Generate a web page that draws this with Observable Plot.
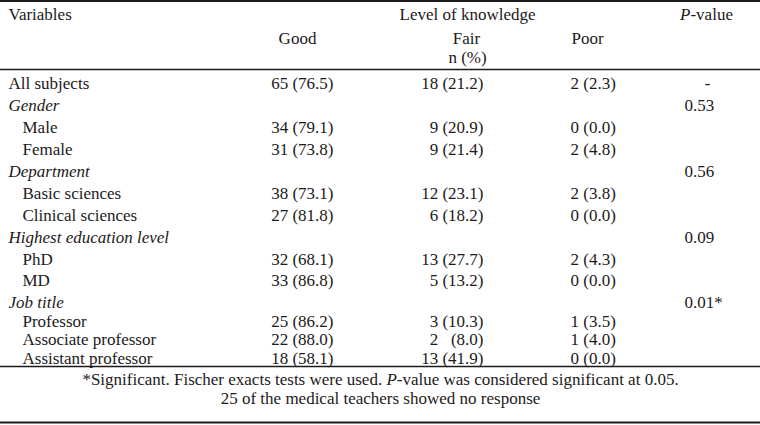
<!DOCTYPE html>
<html><head><meta charset="utf-8">
<script src="https://cdn.jsdelivr.net/npm/d3@7"></script>
<script src="https://cdn.jsdelivr.net/npm/@observablehq/plot@0.6"></script>
<style>
body{margin:0;background:#fff}
#chart svg{display:block}
#chart svg, #chart svg text{font-family:"Liberation Serif","Times New Roman","DejaVu Serif",Times,serif !important}
</style>
</head><body><div id="chart"></div>
<script>
// ---- data ----
const rowLabels = ["All subjects","Gender","Male","Female","Department","Basic sciences","Clinical sciences","Highest education level","PhD","MD","Job title","Professor","Associate professor","Assistant professor"];
const rowKinds  = ["total","group","item","item","group","item","item","group","item","item","group","item","item","item"];
const goodN   = [65,null,34,31,null,38,27,null,32,33,null,25,22,18];
const goodPct = [76.5,null,79.1,73.8,null,73.1,81.8,null,68.1,86.8,null,86.2,88.0,58.1];
const fairN   = [18,null,9,9,null,12,6,null,13,5,null,3,2,13];
const fairPct = [21.2,null,20.9,21.4,null,23.1,18.2,null,27.7,13.2,null,10.3,8.0,41.9];
const poorN   = [2,null,0,2,null,2,0,null,2,0,null,1,1,0];
const poorPct = [2.3,null,0.0,4.8,null,3.8,0.0,null,4.3,0.0,null,3.5,4.0,0.0];
const pValues = ["-","0.53",null,null,"0.56",null,null,"0.09",null,null,"0.01*",null,null,null];
const headerTitles = {variables:"Variables", level:"Level of knowledge", good:"Good", fair:"Fair", poor:"Poor", unit:"n (%)", p:"P-value"};
const footnotes = ["*Significant. Fischer exacts tests were used. P-value was considered significant at 0.05.",
                   "25 of the medical teachers showed no response"];

// ---- layout (not data) ----
const colX = {label:8, indent:22, goodR:333, fairR:483, poorL:570, pL:684, pC:707,
              hGood:297, hFair:466, hUnit:467, hLevel:467, hP:706, hPoor:587, foot:380};
const rowY = {title:-3.14, sub:-2.05, unit:-1.18, topRule:-3.75, headRule:-0.64,
              footRule:13.43, foot1:14.12, foot2:15.14, bottomRule:16.43};

const fs = "\u2007";
function fmt(n, p, padTo) {
  if (n == null) return null;
  let pc = "(" + p.toFixed(1) + ")";
  if (padTo) while (pc.length < padTo) pc = fs + pc;
  return n + " " + pc;
}
const rows = rowLabels.map((label, i) => ({
  i, label, kind: rowKinds[i],
  good: fmt(goodN[i], goodPct[i]),
  fair: fmt(fairN[i], fairPct[i], 6),
  poor: fmt(poorN[i], poorPct[i]),
  p: pValues[i]
}));

const headers = [
  {t: headerTitles.variables, x: colX.label, y: rowY.title, a: "start"},
  {t: headerTitles.level, x: colX.hLevel, y: rowY.title, a: "middle"},
  {t: headerTitles.p, x: colX.hP, y: rowY.title, a: "middle"},
  {t: headerTitles.good, x: colX.hGood, y: rowY.sub, a: "middle"},
  {t: headerTitles.fair, x: colX.hFair, y: rowY.sub, a: "middle"},
  {t: headerTitles.poor, x: colX.hPoor, y: rowY.sub, a: "middle"},
  {t: headerTitles.unit, x: colX.hUnit, y: rowY.unit, a: "middle"}
];

const font = "Liberation Serif, Times New Roman, DejaVu Serif, serif";
const ink = "#1c1a1a";
const common = {fontSize: 17, fontFamily: font, fill: ink};

const chart = Plot.plot({
  width: 760, height: 425, margin: 0,
  style: {fontFamily: font},
  x: {type: "linear", domain: [0, 760], range: [0, 760], axis: null},
  y: {type: "linear", domain: [0, 7, 10, 13], range: [83, 237, 302, 358], axis: null},
  marks: [
    Plot.ruleY([rowY.topRule, rowY.bottomRule], {y: d => d, stroke: ink, strokeWidth: 2}),
    Plot.ruleY([rowY.headRule, rowY.footRule], {y: d => d, stroke: ink, strokeWidth: 1.5}),
    Plot.text(headers.filter(h => h.a === "start"), {x: "x", y: "y", text: "t", textAnchor: "start", ...common}),
    Plot.text(headers.filter(h => h.a === "middle"), {x: "x", y: "y", text: "t", textAnchor: "middle", ...common}),
    Plot.text(rows.filter(d => d.kind === "total"), {x: () => colX.label, y: "i", text: "label", textAnchor: "start", ...common}),
    Plot.text(rows.filter(d => d.kind === "group"), {x: () => colX.label, y: "i", text: "label", textAnchor: "start", fontStyle: "italic", ...common}),
    Plot.text(rows.filter(d => d.kind === "item"), {x: () => colX.indent, y: "i", text: "label", textAnchor: "start", ...common}),
    Plot.text(rows.filter(d => d.good), {x: () => colX.goodR, y: "i", text: "good", textAnchor: "end", ...common}),
    Plot.text(rows.filter(d => d.fair), {x: () => colX.fairR, y: "i", text: "fair", textAnchor: "end", ...common}),
    Plot.text(rows.filter(d => d.poor), {x: () => colX.poorL, y: "i", text: "poor", textAnchor: "start", ...common}),
    Plot.text(rows.filter(d => d.p && d.p !== "-"), {x: () => colX.pL, y: "i", text: "p", textAnchor: "start", ...common}),
    Plot.text(rows.filter(d => d.p === "-"), {x: () => colX.pC, y: "i", text: "p", textAnchor: "middle", ...common}),
    Plot.text(footnotes, {x: () => colX.foot, y: (d, i) => i === 0 ? rowY.foot1 : rowY.foot2, text: d => d, textAnchor: "middle", ...common})
  ]
});
document.getElementById("chart").appendChild(chart);

// italic "P" in "P-value"
chart.querySelectorAll("text").forEach(el => {
  const t = el.textContent;
  const k = t.indexOf("P-value");
  if (k < 0) return;
  while (el.firstChild) el.removeChild(el.firstChild);
  const ns = "http://www.w3.org/2000/svg";
  const a = document.createElementNS(ns, "tspan"); a.textContent = t.slice(0, k);
  const b = document.createElementNS(ns, "tspan"); b.textContent = "P"; b.setAttribute("font-style", "italic");
  const c = document.createElementNS(ns, "tspan"); c.textContent = t.slice(k + 1);
  if (k > 0) el.appendChild(a);
  el.appendChild(b); el.appendChild(c);
});
</script>
</body></html>
